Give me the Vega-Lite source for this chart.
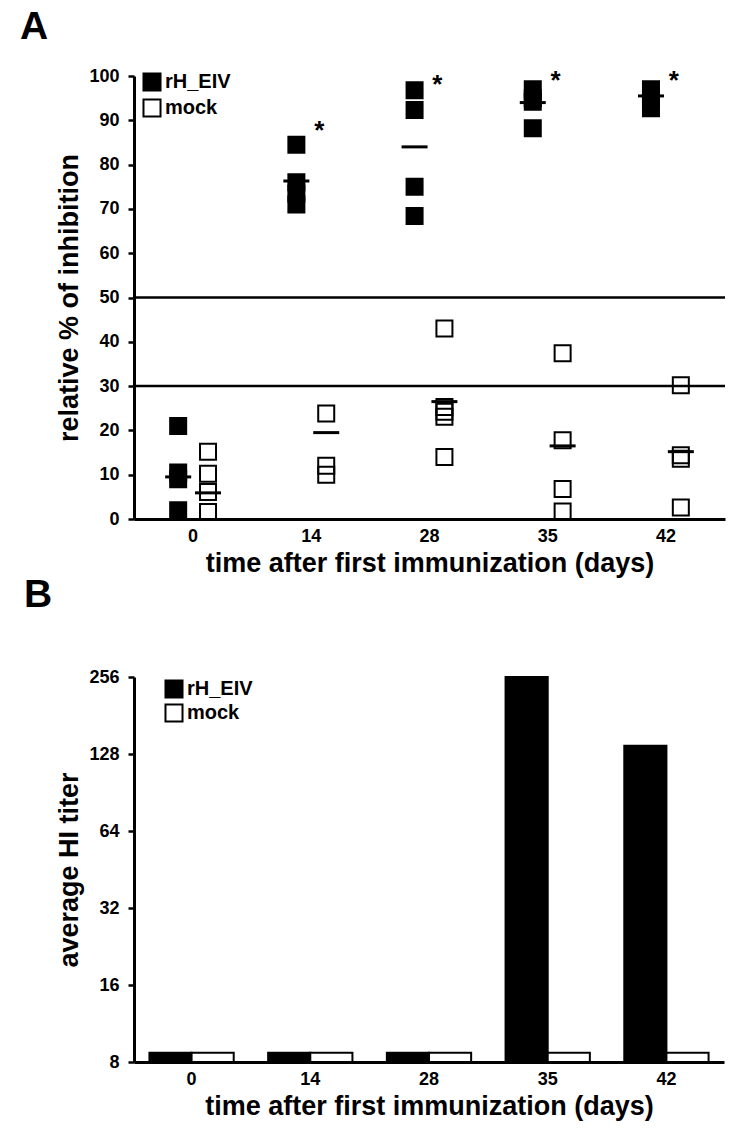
{
  "$schema": "https://vega.github.io/schema/vega-lite/v6.json",
  "background": "white",
  "padding": {"left": 20, "top": 8, "right": 10, "bottom": 10},
  "config": {
    "font": "Liberation Sans",
    "view": {"stroke": null},
    "axis": {
      "domainColor": "black", "domainWidth": 3, "tickColor": "black", "tickWidth": 2.5, "tickSize": 6,
      "labelFont": "Liberation Sans", "labelFontWeight": "bold", "labelFontSize": 18, "labelColor": "black",
      "titleFont": "Liberation Sans", "titleFontWeight": "bold", "titleFontSize": 27, "titleColor": "black",
      "grid": false
    },
    "axisX": {"labelAngle": 0, "ticks": false, "labelPadding": 8, "titlePadding": 5},
    "axisY": {"labelPadding": 9, "titlePadding": 5},
    "legend": {
      "title": null, "orient": "none", "symbolType": "square", "symbolSize": 290,
      "symbolStrokeColor": "black", "symbolStrokeWidth": 2, "labelFontSize": 20, "labelFontWeight": "bold",
      "labelColor": "black", "labelFont": "Liberation Sans", "rowPadding": 0, "labelOffset": 3, "padding": 0
    }
  },
  "spacing": 0,
  "resolve": {"scale": {"fill": "independent", "x": "independent", "y": "independent", "xOffset": "independent"}, "legend": {"fill": "independent"}},
  "datasets": {
    "points": [
      {"day": "0", "group": "rH_EIV", "value": 21},
      {"day": "0", "group": "rH_EIV", "value": 10.5},
      {"day": "0", "group": "rH_EIV", "value": 9},
      {"day": "0", "group": "rH_EIV", "value": 2},
      {"day": "14", "group": "rH_EIV", "value": 84.5},
      {"day": "14", "group": "rH_EIV", "value": 76},
      {"day": "14", "group": "rH_EIV", "value": 73.5},
      {"day": "14", "group": "rH_EIV", "value": 71},
      {"day": "28", "group": "rH_EIV", "value": 96.8},
      {"day": "28", "group": "rH_EIV", "value": 92.3},
      {"day": "28", "group": "rH_EIV", "value": 75},
      {"day": "28", "group": "rH_EIV", "value": 68.4},
      {"day": "35", "group": "rH_EIV", "value": 97},
      {"day": "35", "group": "rH_EIV", "value": 95},
      {"day": "35", "group": "rH_EIV", "value": 94.2},
      {"day": "35", "group": "rH_EIV", "value": 88.2},
      {"day": "42", "group": "rH_EIV", "value": 97},
      {"day": "42", "group": "rH_EIV", "value": 95},
      {"day": "42", "group": "rH_EIV", "value": 92.7},
      {"day": "0", "group": "mock", "value": 15.2},
      {"day": "0", "group": "mock", "value": 10.2},
      {"day": "0", "group": "mock", "value": 6.1},
      {"day": "0", "group": "mock", "value": 1.6},
      {"day": "14", "group": "mock", "value": 23.8},
      {"day": "14", "group": "mock", "value": 12},
      {"day": "14", "group": "mock", "value": 10},
      {"day": "28", "group": "mock", "value": 43},
      {"day": "28", "group": "mock", "value": 25.3},
      {"day": "28", "group": "mock", "value": 24.2},
      {"day": "28", "group": "mock", "value": 23.1},
      {"day": "28", "group": "mock", "value": 14},
      {"day": "35", "group": "mock", "value": 37.4},
      {"day": "35", "group": "mock", "value": 17.8},
      {"day": "35", "group": "mock", "value": 6.8},
      {"day": "35", "group": "mock", "value": 1.7},
      {"day": "42", "group": "mock", "value": 30.2},
      {"day": "42", "group": "mock", "value": 14.4},
      {"day": "42", "group": "mock", "value": 13.6},
      {"day": "42", "group": "mock", "value": 2.6}
    ],
    "means": [
      {"day": "0", "group": "rH_EIV", "mean": 9.5},
      {"day": "14", "group": "rH_EIV", "mean": 76.3},
      {"day": "28", "group": "rH_EIV", "mean": 84},
      {"day": "35", "group": "rH_EIV", "mean": 94},
      {"day": "42", "group": "rH_EIV", "mean": 95.5},
      {"day": "0", "group": "mock", "mean": 5.9},
      {"day": "14", "group": "mock", "mean": 19.5},
      {"day": "28", "group": "mock", "mean": 26.5},
      {"day": "35", "group": "mock", "mean": 16.5},
      {"day": "42", "group": "mock", "mean": 15.2}
    ],
    "stars": [
      {"day": "14", "group": "mock", "pos": 88.8, "label": "*"},
      {"day": "28", "group": "mock", "pos": 99, "label": "*"},
      {"day": "35", "group": "mock", "pos": 100, "label": "*"},
      {"day": "42", "group": "mock", "pos": 100, "label": "*"}
    ],
    "refs": [{"ref": 50}, {"ref": 30}],
    "titers": [
      {"day": "0", "group": "rH_EIV", "titer": 8.7},
      {"day": "0", "group": "mock", "titer": 8.7},
      {"day": "14", "group": "rH_EIV", "titer": 8.7},
      {"day": "14", "group": "mock", "titer": 8.7},
      {"day": "28", "group": "rH_EIV", "titer": 8.7},
      {"day": "28", "group": "mock", "titer": 8.7},
      {"day": "35", "group": "rH_EIV", "titer": 256},
      {"day": "35", "group": "mock", "titer": 8.7},
      {"day": "42", "group": "rH_EIV", "titer": 138},
      {"day": "42", "group": "mock", "titer": 8.7}
    ]
  },
  "vconcat": [
    {
      "title": {"text": "A", "anchor": "start", "frame": "group", "dx": -114, "offset": -11, "baseline": "alphabetic", "fontSize": 39, "fontWeight": "bold", "color": "black", "font": "Liberation Sans"},
      "width": 591,
      "height": 443,
      "layer": [
        {
          "data": {"name": "points"},
          "mark": {"type": "square", "size": 256, "stroke": "black", "strokeWidth": 2, "opacity": 1},
          "encoding": {
            "x": {"field": "day", "type": "ordinal", "sort": ["0", "14", "28", "35", "42"], "scale": {"paddingInner": 0, "paddingOuter": 0}, "title": "time after first immunization (days)"},
            "xOffset": {"field": "group", "type": "nominal", "sort": ["rH_EIV", "mock"], "scale": {"paddingInner": 0, "paddingOuter": 0.98}},
            "y": {"field": "value", "type": "quantitative", "scale": {"domain": [0, 100]}, "axis": {"values": [0, 10, 20, 30, 40, 50, 60, 70, 80, 90, 100]}, "title": "relative % of inhibition"},
            "fill": {"field": "group", "type": "nominal", "scale": {"domain": ["rH_EIV", "mock"], "range": ["black", "transparent"]}, "legend": {"legendX": 8, "legendY": -4}}
          }
        },
        {
          "data": {"name": "means"},
          "mark": {"type": "tick", "size": 26, "thickness": 3, "color": "black", "opacity": 1},
          "encoding": {
            "x": {"field": "day", "type": "ordinal", "sort": ["0", "14", "28", "35", "42"]},
            "xOffset": {"field": "group", "type": "nominal", "sort": ["rH_EIV", "mock"]},
            "y": {"field": "mean", "type": "quantitative"}
          }
        },
        {
          "data": {"name": "refs"},
          "mark": {"type": "rule", "color": "black", "strokeWidth": 2.5},
          "encoding": {"y": {"field": "ref", "type": "quantitative"}}
        },
        {
          "data": {"name": "stars"},
          "mark": {"type": "text", "fontSize": 26, "fontWeight": "bold", "color": "black", "baseline": "middle", "dx": -7, "dy": 5, "font": "Liberation Sans"},
          "encoding": {
            "x": {"field": "day", "type": "ordinal", "sort": ["0", "14", "28", "35", "42"]},
            "xOffset": {"field": "group", "type": "nominal", "sort": ["rH_EIV", "mock"]},
            "y": {"field": "pos", "type": "quantitative"},
            "text": {"field": "label"}
          }
        }
      ]
    },
    {
      "title": {"text": "B", "anchor": "start", "frame": "group", "dx": -110, "offset": 22, "baseline": "alphabetic", "fontSize": 39, "fontWeight": "bold", "color": "black", "font": "Liberation Sans"},
      "width": 590,
      "height": 385,
      "data": {"name": "titers"},
      "mark": {"type": "bar", "stroke": "black", "strokeWidth": 2},
      "encoding": {
        "x": {"field": "day", "type": "ordinal", "sort": ["0", "14", "28", "35", "42"], "scale": {"paddingInner": 0.29, "paddingOuter": 0.13}, "title": "time after first immunization (days)"},
        "xOffset": {"field": "group", "type": "nominal", "sort": ["rH_EIV", "mock"], "scale": {"paddingInner": 0, "paddingOuter": 0}},
        "y": {"field": "titer", "type": "quantitative", "scale": {"type": "log", "base": 2, "domain": [8, 256]}, "axis": {"values": [8, 16, 32, 64, 128, 256]}, "title": "average HI titer"},
        "y2": {"datum": 8},
        "fill": {"field": "group", "type": "nominal", "scale": {"domain": ["rH_EIV", "mock"], "range": ["black", "white"]}, "legend": {"legendX": 30, "legendY": 2, "rowPadding": -2}}
      }
    }
  ]
}
